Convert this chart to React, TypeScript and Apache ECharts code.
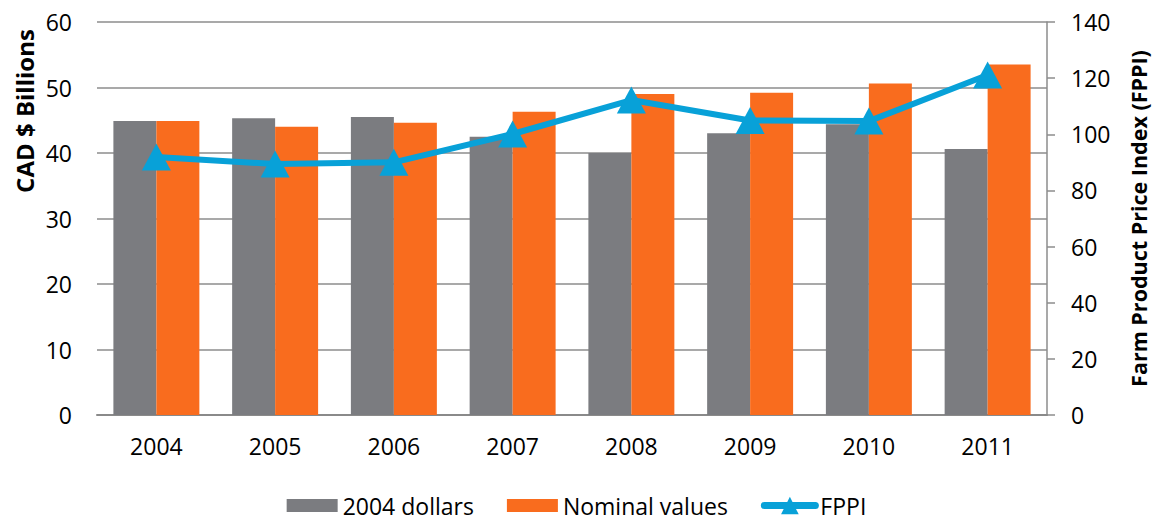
import React, { useEffect, useRef } from "react";
import * as echarts from "echarts";

const years = ["2004", "2005", "2006", "2007", "2008", "2009", "2010", "2011"];
const dollars2004 = [44.9, 45.3, 45.5, 42.5, 40.0, 43.0, 44.4, 40.6];
const nominalValues = [44.9, 44.0, 44.6, 46.3, 49.0, 49.2, 50.6, 53.5];
const fppi = [91.9, 89.4, 90.0, 100.1, 112.2, 104.9, 104.7, 121.1];

const FONT = "Open Sans";
const RECT_ICON = "path://M0,0H51V13H0Z";

export default function App() {
  const ref = useRef<HTMLDivElement>(null);
  useEffect(() => {
    if (!ref.current) return;
    const chart = echarts.init(ref.current, undefined, { renderer: "svg" });
    chart.setOption({
      animation: false,
      textStyle: { fontFamily: FONT },
      grid: {
        left: 97,
        right: 106,
        top: 22,
        bottom: 103,
        containLabel: false,
        outerBoundsMode: "none",
      },
      legend: {
        top: 489,
        left: "center",
        itemWidth: 51,
        itemHeight: 22,
        itemGap: 33,
        symbolKeepAspect: true,
        textStyle: { fontSize: 23, lineHeight: 22, color: "#000", fontFamily: FONT },
        data: [
          { name: "2004 dollars", icon: RECT_ICON },
          { name: "Nominal values", icon: RECT_ICON },
          { name: "FPPI", lineStyle: { width: 7, cap: "round" } },
        ],
      },
      graphic: [
        {
          type: "text",
          x: 24,
          y: 111,
          rotation: Math.PI / 2,
          style: {
            text: "CAD $ Billions",
            fontSize: 24,
            fontWeight: "bold",
            fontFamily: FONT,
            fill: "#000",
            textAlign: "center",
            textVerticalAlign: "middle",
          },
        },
      ],
      xAxis: {
        type: "category",
        data: years,
        axisLine: { show: true, lineStyle: { color: "#8a8a8a", width: 2 } },
        axisTick: { show: false },
        axisLabel: { fontSize: 23, color: "#000", margin: 19, fontFamily: FONT },
      },
      yAxis: [
        {
          type: "value",
          min: 0,
          max: 60,
          interval: 10,
          axisLine: { show: false },
          axisTick: { show: false },
          axisLabel: { fontSize: 23, color: "#000", margin: 25, fontFamily: FONT },
          splitLine: { show: true, lineStyle: { color: "#8c8c8c", width: 1.5 } },
        },
        {
          type: "value",
          min: 0,
          max: 140,
          interval: 20,
          position: "right",
          name: "Farm Product Price Index (FPPI)",
          nameLocation: "middle",
          nameGap: 80,
          nameRotate: 90,
          nameTextStyle: { fontSize: 21.5, fontWeight: "bold", color: "#000", fontFamily: FONT },
          axisLine: { show: true, lineStyle: { color: "#8c8c8c", width: 1.5 } },
          axisTick: { show: true, inside: false, length: 8, lineStyle: { color: "#8c8c8c", width: 1.5 } },
          axisLabel: { fontSize: 23, color: "#000", margin: 24, fontFamily: FONT },
          splitLine: { show: false },
        },
      ],
      series: [
        {
          name: "2004 dollars",
          type: "bar",
          data: dollars2004,
          barGap: "0%",
          barCategoryGap: "27.6%",
          itemStyle: { color: "#7b7c80" },
        },
        {
          name: "Nominal values",
          type: "bar",
          data: nominalValues,
          barGap: "0%",
          barCategoryGap: "27.6%",
          itemStyle: { color: "#f96c1e" },
        },
        {
          name: "FPPI",
          type: "line",
          yAxisIndex: 1,
          data: fppi,
          symbol: "triangle",
          symbolSize: [29, 27],
          lineStyle: { color: "#08a1d8", width: 6 },
          itemStyle: { color: "#08a1d8" },
          z: 5,
        },
      ],
    });
    return () => chart.dispose();
  }, []);
  return (
    <div
      ref={ref}
      style={{ position: "absolute", left: 0, top: 0, width: 1153, height: 518 }}
    />
  );
}
